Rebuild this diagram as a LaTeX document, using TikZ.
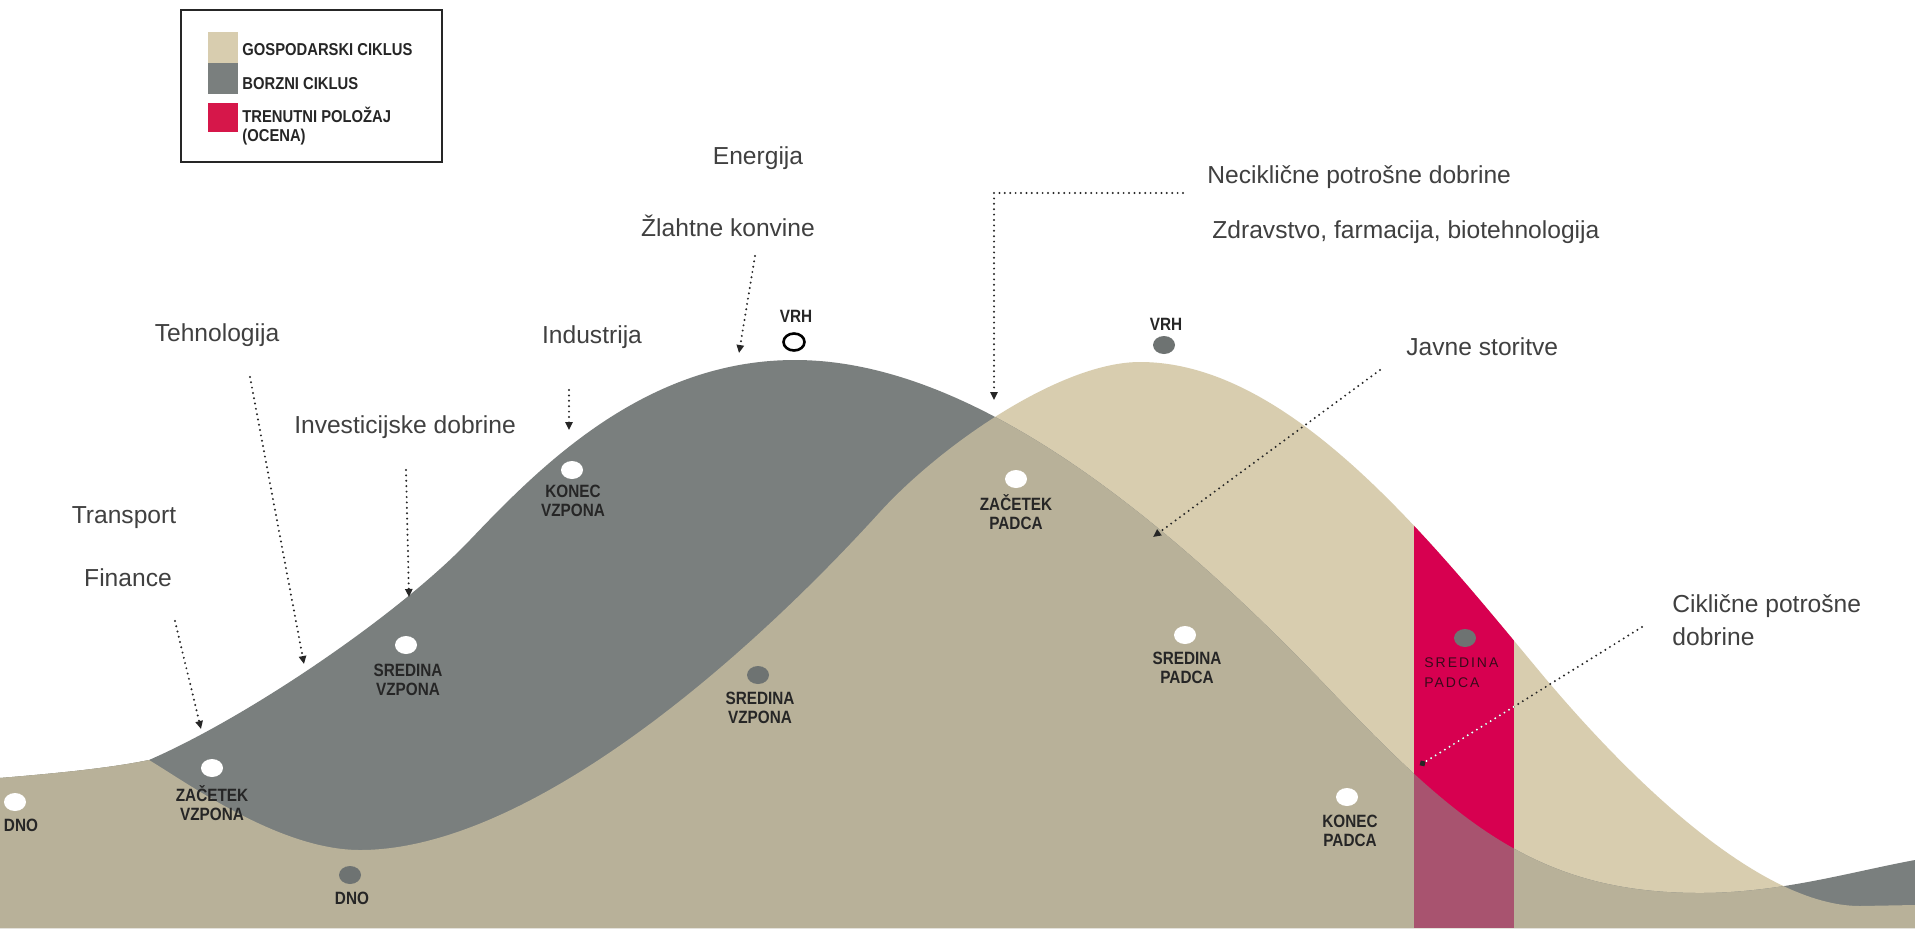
\documentclass[tikz,border=0pt]{standalone}
\usepackage{fontspec}
\setmainfont{Liberation Sans}
\newfontfamily\labfont{Liberation Sans}[FakeStretch=0.86]
\newfontfamily\redfont{Liberation Sans}[LetterSpace=14]
\usetikzlibrary{arrows.meta,shapes.geometric}
\definecolor{biz}{HTML}{D8CDAF}
\definecolor{stk}{HTML}{7A7F7E}
\definecolor{both}{HTML}{B8B199}
\definecolor{now}{HTML}{D70050}
\definecolor{nowmix}{HTML}{A8536F}
\definecolor{legred}{HTML}{D6174A}
\definecolor{greydot}{HTML}{6E7372}
\definecolor{txt}{HTML}{404040}
\definecolor{labc}{HTML}{262626}
\definecolor{redlab}{HTML}{3A0A1A}

% stock-market cycle (region below its curve)
\newcommand{\Sreg}[1]{\path[#1] (0,928) -- (0,778) .. controls (60,773) and (110,768) .. (149,760)
 .. controls (250,716) and (400,613.5) .. (470,540)
 .. controls (540,466.5) and (645,360) .. (795,360)
 .. controls (950,360) and (1130,480) .. (1330,690)
 .. controls (1460,826.5) and (1540,893) .. (1700,893)
 .. controls (1780,893) and (1850,872) .. (1915,860)
 -- (1915,928) -- cycle;}
% business cycle (region below its curve)
\newcommand{\Breg}[1]{\path[#1] (0,928) -- (0,778) .. controls (60,773) and (110,768) .. (149,760)
 .. controls (189,784) and (280,850) .. (360,850)
 .. controls (520,850) and (730,677) .. (880,512)
 .. controls (940,446) and (1060,362) .. (1140,362)
 .. controls (1290,362) and (1430,540) .. (1540,672)
 .. controls (1630,780) and (1760,906) .. (1860,906)
 -- (1915,905) -- (1915,928) -- cycle;}

\begin{document}
\begin{tikzpicture}[x=0.5pt,y=-0.5pt,
  sect/.style={font=\fontsize{12.3}{16.5}\selectfont, text=txt, inner sep=0pt},
  dlab/.style={font=\labfont\bfseries\fontsize{8.9}{9.5}\selectfont, text=labc, align=center, inner sep=0pt},
  legtxt/.style={font=\labfont\bfseries\fontsize{8.6}{9.5}\selectfont, text=labc, align=left, anchor=west, inner sep=0pt},
  wdot/.style={ellipse, fill=white, inner sep=0pt, minimum width=11pt, minimum height=9pt},
  gdot/.style={ellipse, fill=greydot, inner sep=0pt, minimum width=11pt, minimum height=9pt},
  odot/.style={ellipse, draw=black, line width=1.3pt, fill=white, inner sep=0pt, minimum width=10.5pt, minimum height=8.5pt},
  dotline/.style={draw=black!85, line width=1.1pt, line cap=round, dash pattern=on 0pt off 2.7pt},
  dotarrow/.style={dotline, -{Triangle[length=4pt,width=3.6pt]}}
]
\useasboundingbox (0,0) rectangle (1915,928);
\fill[white] (0,0) rectangle (1915,928);

% cycles
\Breg{fill=biz}
\Sreg{fill=stk}
\begin{scope}
  \Breg{clip}
  \Sreg{fill=both}
\end{scope}
% current position band
\begin{scope}
  \clip (1414,0) rectangle (1514,928);
  \Breg{clip}
  \fill[now] (1414,0) rectangle (1514,928);
  \Sreg{clip}
  \fill[nowmix] (1414,0) rectangle (1514,928);
\end{scope}

% legend
\draw[black!85, line width=1pt] (181,10) rectangle (442,162);
\fill[biz] (208,32) rectangle (238,63);
\fill[stk] (208,63) rectangle (238,94);
\fill[legred] (208,103) rectangle (238,132);
\node[legtxt] (lg1) at (242,50) {GOSPODARSKI CIKLUS};
\node[legtxt] (lg2) at (242,84) {BORZNI CIKLUS};
\node[legtxt] (lg3) at (242,126) {TRENUTNI POLOŽAJ\\(OCENA)};

% sector texts
\node[sect] (energija) at (758,158) {Energija};
\node[sect] (zlahtne) at (728,226) {Žlahtne konvine};
\node[sect] (tehno) at (217,335) {Tehnologija};
\node[sect] (indus) at (592,337) {Industrija};
\node[sect] (invest) at (405,427) {Investicijske dobrine};
\node[sect] (transp) at (124,518) {Transport};
\node[sect] (finan) at (128,578) {Finance};
\node[sect, anchor=west] (necik) at (1207,177) {Neciklične potrošne dobrine};
\node[sect, anchor=west] (zdrav) at (1212,232) {Zdravstvo, farmacija, biotehnologija};
\node[sect, anchor=west] (javne) at (1406,347) {Javne storitve};
\node[sect, anchor=west, align=left] (cikl) at (1672,620) {Ciklične potrošne\\dobrine};

% connector end points
\coordinate (tehS) at (250,377); \coordinate (tehE) at (304,664);
\coordinate (finS) at (175,621); \coordinate (finE) at (201,729);
\coordinate (invS) at (406,470); \coordinate (invE) at (409,597);
\coordinate (indS) at (569,390); \coordinate (indE) at (569,430);
\coordinate (zlaS) at (755,256); \coordinate (zlaE) at (739,353);
\coordinate (necS) at (1183,193); \coordinate (necE) at (994,400);
\coordinate (javS) at (1380,370); \coordinate (javE) at (1153,537);
\coordinate (cikS) at (1642,627); \coordinate (cikE) at (1420,765);

\draw[dotarrow] (tehS) -- (tehE);
\draw[dotarrow] (finS) -- (finE);
\draw[dotarrow] (invS) -- (invE);
\draw[dotarrow] (indS) -- (indE);
\draw[dotarrow] (zlaS) -- (zlaE);
\draw[dotarrow] (necS) -| (necE);
\draw[dotarrow] (javS) -- (javE);
\draw[dotline, -{Circle[length=3pt]}] (cikS) -- (cikE);
\begin{scope}
  \clip (1414,0) rectangle (1514,928);
  \draw[dotline, draw=white, shorten >=3pt] (cikS) -- (cikE);
\end{scope}

% phase points
\node[wdot] (d1) at (15,802) {};
\node[dlab] (t1) at (21,825) {DNO};
\node[wdot] (d2) at (212,768) {};
\node[dlab] (t2) at (212,803) {ZAČETEK\\VZPONA};
\node[gdot] (d3) at (350,875) {};
\node[dlab] (t3) at (352,898) {DNO};
\node[wdot] (d4) at (406,645) {};
\node[dlab] (t4) at (408,680) {SREDINA\\VZPONA};
\node[wdot] (d5) at (572,470) {};
\node[dlab] (t5) at (573,501) {KONEC\\VZPONA};
\node[odot] (d6) at (794,342) {};
\node[dlab] (t6) at (796,316) {VRH};
\node[wdot] (d7) at (1016,479) {};
\node[dlab] (t7) at (1016,512) {ZAČETEK\\PADCA};
\node[gdot] (d8) at (758,675) {};
\node[dlab] (t8) at (760,708) {SREDINA\\VZPONA};
\node[gdot] (d9) at (1164,345) {};
\node[dlab] (t9) at (1166,324) {VRH};
\node[wdot] (d10) at (1185,635) {};
\node[dlab] (t10) at (1187,668) {SREDINA\\PADCA};
\node[wdot] (d11) at (1347,797) {};
\node[dlab] (t11) at (1350,831) {KONEC\\PADCA};
\node[gdot] (d12) at (1465,638) {};
\node[font=\redfont\fontsize{7}{10}\selectfont, text=redlab, align=left, anchor=west, inner sep=0pt] (t12) at (1424,673) {SREDINA\\PADCA};
\end{tikzpicture}
\end{document}
